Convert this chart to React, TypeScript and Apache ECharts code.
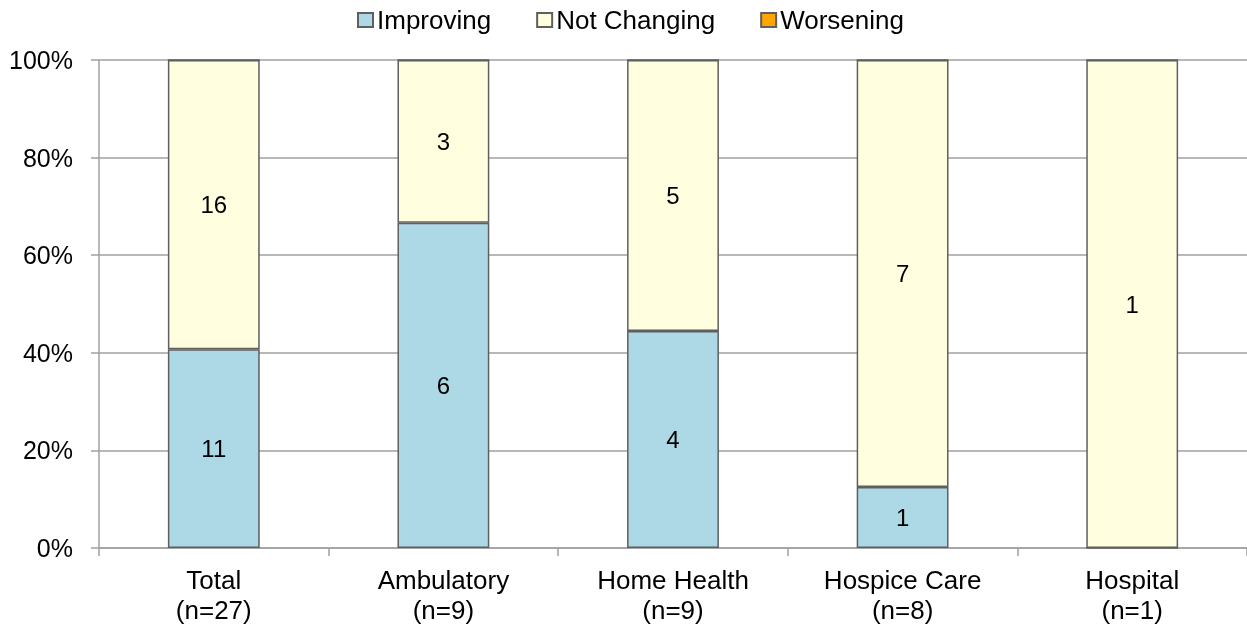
import React, { useEffect, useRef } from "react";
import * as echarts from "echarts";

const categories = ["Total\n(n=27)", "Ambulatory\n(n=9)", "Home Health\n(n=9)", "Hospice Care\n(n=8)", "Hospital\n(n=1)"];
const improving = [11, 6, 4, 1, 0];
const notChanging = [16, 3, 5, 7, 1];
const worsening = [0, 0, 0, 0, 0];
const yTicks = [0, 20, 40, 60, 80, 100];

const FONT = "Liberation Sans, Arial, sans-serif";

export default function App() {
  const ref = useRef<HTMLDivElement>(null);
  useEffect(() => {
    const chart = echarts.init(ref.current!, null, { renderer: "svg" });
    const totals = categories.map((_, i) => improving[i] + notChanging[i] + worsening[i]);
    const mk = (name: string, counts: number[], color: string) => ({
      name,
      type: "bar",
      stack: "s",
      barWidth: "40%",
      data: counts.map((c, i) => ({ value: (c / totals[i]) * 100, count: c })),
      itemStyle: { color, borderColor: "#5f5f5f", borderWidth: 1.5 },
      label: {
        show: true,
        position: "inside",
        color: "#000",
        fontSize: 24,
        fontFamily: FONT,
        formatter: (p: any) => (p.data.count ? String(p.data.count) : ""),
      },
    });
    chart.setOption({
      animation: false,
      textStyle: { fontFamily: FONT },
      legend: {
        top: 2,
        left: 352,
        itemWidth: 15,
        itemHeight: 14,
        itemGap: 45,
        icon: "rect",
        textStyle: { fontSize: 26, color: "#000", fontFamily: FONT, padding: [0, 0, 0, -1] },
        data: ["Improving", "Not Changing", "Worsening"],
      },
      grid: { left: 99, right: 0, top: 60, bottom: 80 },
      xAxis: {
        type: "category",
        data: categories,
        axisLine: { lineStyle: { color: "#a0a0a0", width: 1.5 } },
        axisTick: { show: true, length: 8, lineStyle: { color: "#a0a0a0", width: 1.5 } },
        axisLabel: { fontSize: 26, color: "#000", fontFamily: FONT, lineHeight: 30, margin: 17 },
      },
      yAxis: {
        type: "value",
        min: 0,
        max: 100,
        interval: 20,
        axisLine: { show: true, lineStyle: { color: "#a0a0a0", width: 1.5 } },
        axisTick: { show: true, length: 8, lineStyle: { color: "#a0a0a0", width: 1.5 } },
        splitLine: { lineStyle: { color: "#a0a0a0", width: 1.5 } },
        axisLabel: {
          fontSize: 25,
          color: "#000",
          fontFamily: FONT,
          margin: 26,
          formatter: (v: number) => (yTicks.includes(v) ? v + "%" : ""),
        },
      },
      series: [
        mk("Improving", improving, "#add8e6"),
        mk("Not Changing", notChanging, "#ffffe0"),
        mk("Worsening", worsening, "#ffa500"),
      ],
    });
    return () => chart.dispose();
  }, []);
  return <div ref={ref} style={{ position: "fixed", left: 0, top: 0, width: 1247, height: 628 }} />;
}
